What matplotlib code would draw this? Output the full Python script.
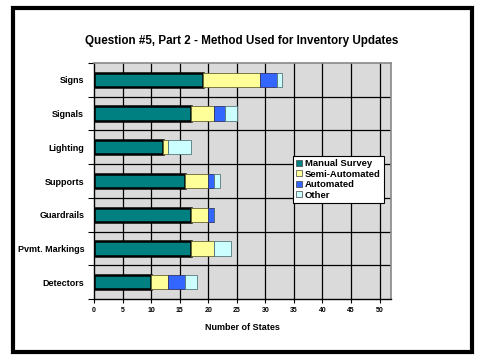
import numpy as np
import matplotlib
matplotlib.use("Agg")
import matplotlib.pyplot as plt
from matplotlib.patches import Rectangle

plt.rcParams["font.family"] = ["Liberation Sans", "DejaVu Sans"]
plt.rcParams["font.weight"] = "bold"
plt.rcParams["axes.labelweight"] = "bold"

categories = ["Signs", "Signals", "Lighting", "Supports", "Guardrails",
              "Pvmt. Markings", "Detectors"]
manual = [19, 17, 12, 16, 17, 17, 10]
semi = [10, 4, 1, 4, 3, 4, 3]
automated = [3, 2, 0, 1, 1, 0, 3]
other = [1, 2, 4, 1, 0, 3, 2]

series = [
    ("Manual Survey", manual, "#008080", "black", 1.8),
    ("Semi-Automated", semi, "#FFFF99", "#666633", 0.6),
    ("Automated", automated, "#3366FF", "#333366", 0.6),
    ("Other", other, "#CCFFFF", "#557777", 0.6),
]

W, H = 486, 359
fig = plt.figure(figsize=(W / 100, H / 100), dpi=100, facecolor="white")
ax = fig.add_axes([94 / W, 1 - 299 / H, (391 - 94) / W, (299 - 63) / H])
ax.set_facecolor("#dadada")

y = np.arange(len(categories))
left = np.zeros(len(categories))
handles = []
for name, vals, col, ec, lw in series:
    vals = np.array(vals, dtype=float)
    b = ax.barh(y, vals, left=left, height=0.42, color=col, edgecolor=ec,
                linewidth=lw, label=name, zorder=3)
    handles.append(b)
    left += vals

ax.set_xlim(0, 52)
ax.set_ylim(len(categories) - 0.5, -0.5)
ax.set_xticks(np.arange(0, 51, 5))
ax.set_xticklabels([str(v) for v in range(0, 51, 5)], fontsize=5)
ax.set_yticks(y)
ax.set_yticklabels(categories, fontsize=6.5)
ax.tick_params(axis="y", length=0, pad=7)
ax.tick_params(axis="x", direction="out", length=3, width=0.8, pad=3)
ax.set_yticks(np.arange(-0.5, len(categories), 1), minor=True)
ax.tick_params(axis="y", which="minor", direction="out", length=4, width=0.8)

for xv in range(5, 51, 5):
    ax.axvline(xv, color="black", linewidth=0.9, zorder=1)
for yv in np.arange(0.5, len(categories) - 0.5, 1):
    ax.axhline(yv, color="black", linewidth=0.9, zorder=1)

for side in ["top", "right"]:
    ax.spines[side].set_color("#888888")
    ax.spines[side].set_linewidth(1.2)
ax.spines["left"].set_linewidth(1.0)
ax.spines["bottom"].set_linewidth(1.0)

ax.set_xlabel("Number of States", fontsize=6.5, labelpad=6)

leg = ax.legend(handles=handles, loc="upper left",
                bbox_to_anchor=((293 - 94) / (391 - 94), 1 - (156 - 63) / (299 - 63)),
                fontsize=6.8, frameon=True, fancybox=False, edgecolor="black",
                framealpha=1, handlelength=0.6, handleheight=0.6,
                handletextpad=0.3, borderpad=0.35, labelspacing=0.15,
                borderaxespad=0)
leg.get_frame().set_linewidth(0.8)
leg.set_zorder(5)
for patch in leg.get_patches():
    patch.set_linewidth(0.5)
    patch.set_edgecolor("#444444")

fig.text(242 / W, 1 - 41 / H,
         "Question #5, Part 2 - Method Used for Inventory Updates",
         ha="center", va="center", fontsize=8.4, fontweight="bold")

fig.patches.append(Rectangle((12.5 / W, 1 - 351.5 / H), (471.5 - 12.5) / W,
                             (351.5 - 8) / H, transform=fig.transFigure,
                             fill=False, edgecolor="black", linewidth=3))

fig.savefig("out.png", dpi=100, facecolor="white")
